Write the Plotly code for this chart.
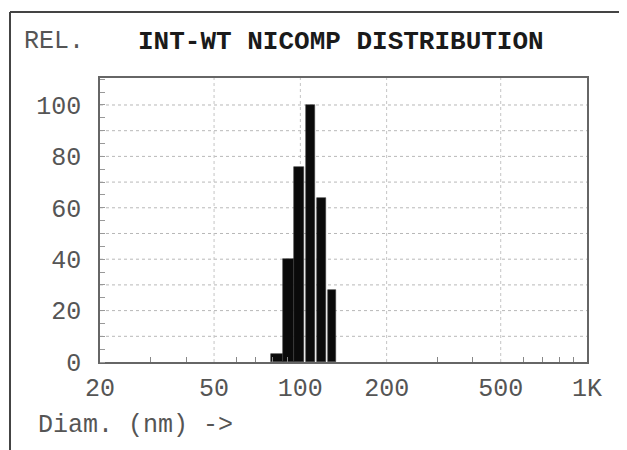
import plotly.graph_objects as go

# Data
diam_centers = [83.0, 90.8, 99.3, 108.5, 118.5, 129.0]   # nm (bin centres)
rel_values = [3, 40, 76, 100, 64, 28]                     # relative intensity
x_tick_vals = [20, 50, 100, 200, 500, 1000]
x_tick_text = ["20", "50", "100", "200", "500", "1K"]
x_minor_vals = [30, 40, 60, 70, 80, 90, 300, 400, 600, 700, 800, 900]
y_tick_vals = [0, 20, 40, 60, 80, 100]
y_grid_vals = [10, 20, 30, 40, 50, 60, 70, 80, 90, 100]

FONT = "Liberation Mono"
OFF = 8  # page body margin of the browser
W, H = 627 - OFF, 450 - OFF
PL, PR, PT, PB = 100, 587, 78, 362   # plot area in reference pixels
L, T = PL - OFF, PT - OFF
R, B = W - (PR - OFF), H - (PB - OFF)
PW, PH = PR - PL, PB - PT


def px(xp):
    return (xp - PL) / PW


def py(yp):
    return (PB - yp) / PH


fig = go.Figure()
fig.add_trace(go.Bar(
    x=diam_centers, y=rel_values,
    marker=dict(color="#0a0a0a", line=dict(color="#3a3a3a", width=0.6)),
    showlegend=False,
))

shapes = [
    # outer frame (left and top lines)
    dict(type="line", xref="paper", yref="paper", x0=px(10), x1=px(10), y0=py(12), y1=py(460),
         line=dict(color="#444", width=2)),
    dict(type="line", xref="paper", yref="paper", x0=px(10), x1=px(640), y0=py(12), y1=py(12),
         line=dict(color="#444", width=2)),
]
for v in y_grid_vals:
    shapes.append(dict(type="line", xref="paper", yref="y", x0=0, x1=1, y0=v, y1=v,
                       line=dict(color="#b8b8b8", width=1, dash="dot"), layer="below"))
for v in [50, 100, 200, 500]:
    shapes.append(dict(type="line", xref="x", yref="paper", x0=v, x1=v, y0=0, y1=1,
                       line=dict(color="#c4c4c4", width=1, dash="dot"), layer="below"))

annotations = [
    dict(text="REL.", x=px(22), y=py(42), xref="paper", yref="paper", xanchor="left", yanchor="middle",
         showarrow=False, font=dict(family=FONT, size=25, color="#555")),
    dict(text="<b>INT-WT NICOMP DISTRIBUTION</b>", x=px(136), y=py(42), xref="paper", yref="paper",
         xanchor="left", yanchor="middle", showarrow=False, font=dict(family=FONT, size=26, color="#1a1a1a")),
    dict(text="Diam. (nm) ->", x=px(36), y=py(425), xref="paper", yref="paper", xanchor="left",
         yanchor="middle", showarrow=False, font=dict(family=FONT, size=25, color="#555")),
]

fig.update_layout(
    width=W, height=H,
    margin=dict(l=L, r=R, t=T, b=B, pad=0),
    paper_bgcolor="white", plot_bgcolor="white",
    bargap=0,
    shapes=shapes,
    annotations=annotations,
    xaxis=dict(
        type="log", range=[1.30103, 3.0],
        tickvals=x_tick_vals, ticktext=x_tick_text,
        tickfont=dict(family=FONT, size=25, color="#555"),
        showgrid=False, zeroline=False,
        showline=True, linecolor="#666", linewidth=1.5, mirror=True,
        ticks="", ticklabelstandoff=2,
        minor=dict(tickvals=x_minor_vals, ticks="inside", ticklen=5, tickcolor="#888"),
    ),
    yaxis=dict(
        range=[0, 110.5],
        tickvals=y_tick_vals,
        tickfont=dict(family=FONT, size=25, color="#555"),
        showgrid=False, zeroline=False,
        showline=True, linecolor="#666", linewidth=1.5, mirror=True,
        ticks="", ticklabelstandoff=12,
        minor=dict(dtick=5, ticks="inside", ticklen=5, tickcolor="#999"),
    ),
)

fig.write_html("out.html")
